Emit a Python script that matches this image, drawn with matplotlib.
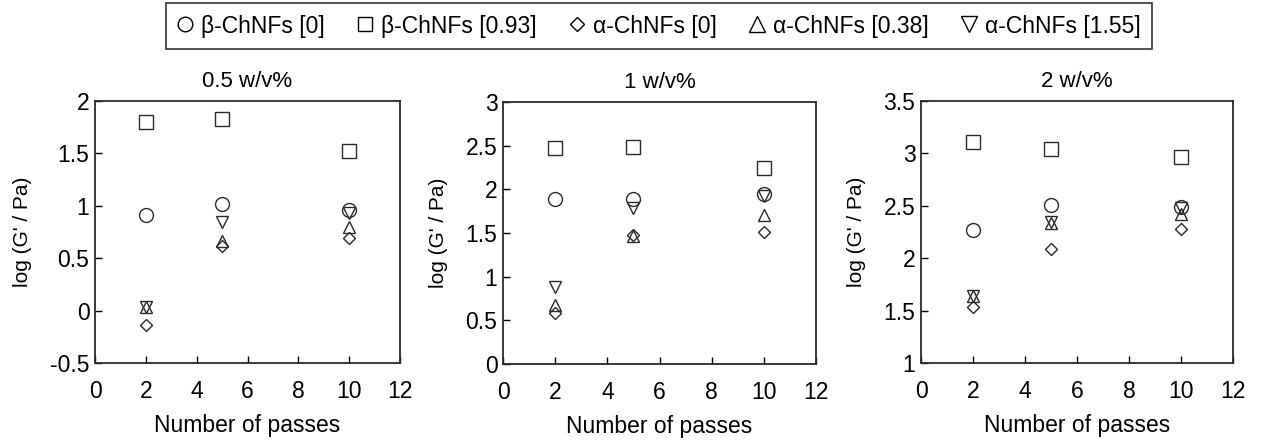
import numpy as np
import matplotlib.pyplot as plt
from matplotlib.lines import Line2D

plt.rcParams['font.family'] = ['Liberation Sans', 'DejaVu Sans']

passes = [2, 5, 10]
panel_titles = ['0.5 w/v%', '1 w/v%', '2 w/v%']
series_names = ['β-ChNFs [0]', 'β-ChNFs [0.93]', 'α-ChNFs [0]', 'α-ChNFs [0.38]', 'α-ChNFs [1.55]']

# log G' values per panel, per series (order as series_names)
conc_05 = [
    [0.91, 1.02, 0.96],
    [1.80, 1.83, 1.52],
    [-0.14, 0.62, 0.69],
    [0.03, 0.66, 0.80],
    [0.03, 0.85, 0.93],
]
conc_1 = [
    [1.89, 1.89, 1.95],
    [2.47, 2.49, 2.25],
    [0.58, 1.48, 1.51],
    [0.68, 1.46, 1.71],
    [0.88, 1.79, 1.92],
]
conc_2 = [
    [2.27, 2.51, 2.49],
    [3.11, 3.04, 2.97],
    [1.53, 2.09, 2.28],
    [1.64, 2.34, 2.42],
    [1.64, 2.35, 2.48],
]
panels = [conc_05, conc_1, conc_2]
ylims = [(-0.5, 2), (0, 3), (1, 3.5)]

markers = ['o', 's', 'D', '^', 'v']
msizes = [10, 9.5, 5.8, 9, 9]
edge = '#2a2a2a'

fig = plt.figure(figsize=(12.62, 4.46), dpi=100)
W, H = 1262, 446
boxes = [(95, 101, 400, 363), (503, 102, 816, 364), (921, 101, 1233, 363)]

for (x0, y0, x1, y1), data, title, yl in zip(boxes, panels, panel_titles, ylims):
    ax = fig.add_axes([x0 / W, 1 - y1 / H, (x1 - x0) / W, (y1 - y0) / H])
    for vals, m, ms in zip(data, markers, msizes):
        ax.plot(passes, vals, linestyle='none', marker=m, markersize=ms,
                markerfacecolor='none', markeredgecolor=edge, markeredgewidth=1.0)
    ax.set_xlim(0, 12)
    ax.set_ylim(*yl)
    ax.set_xticks(range(0, 13, 2))
    yt = np.arange(yl[0], yl[1] + 0.01, 0.5)
    ax.set_yticks(yt)
    ax.set_yticklabels([f'{v:g}' for v in yt])
    ax.tick_params(axis='x', direction='in', length=5, width=1, labelsize=16.5, pad=12)
    ax.tick_params(axis='y', direction='in', length=5, width=1, labelsize=16.5, pad=4)
    for s in ax.spines.values():
        s.set_linewidth(1.3)
        s.set_color('#2a2a2a')
    ax.set_title(title, fontsize=16, pad=10)
    ax.set_xlabel('Number of passes', fontsize=16.5, labelpad=8)
    ax.set_ylabel("log (G' / Pa)", fontsize=15, labelpad=13)

handles = [Line2D([], [], linestyle='none', marker=m, markersize=ms,
                  markerfacecolor='none', markeredgecolor='black', markeredgewidth=1.0)
           for m, ms in zip(markers, [10.5, 10, 7.5, 11, 11])]
leg = fig.legend(handles, series_names, loc='center', bbox_to_anchor=(659 / W, 1 - 26 / H),
                 ncol=5, fontsize=16.5, frameon=True, fancybox=False, handlelength=0.7,
                 handletextpad=0.35, columnspacing=1.4, borderpad=0.5)
leg.get_frame().set_edgecolor('black')
leg.get_frame().set_linewidth(1.2)

fig.savefig('out.png', dpi=100)
